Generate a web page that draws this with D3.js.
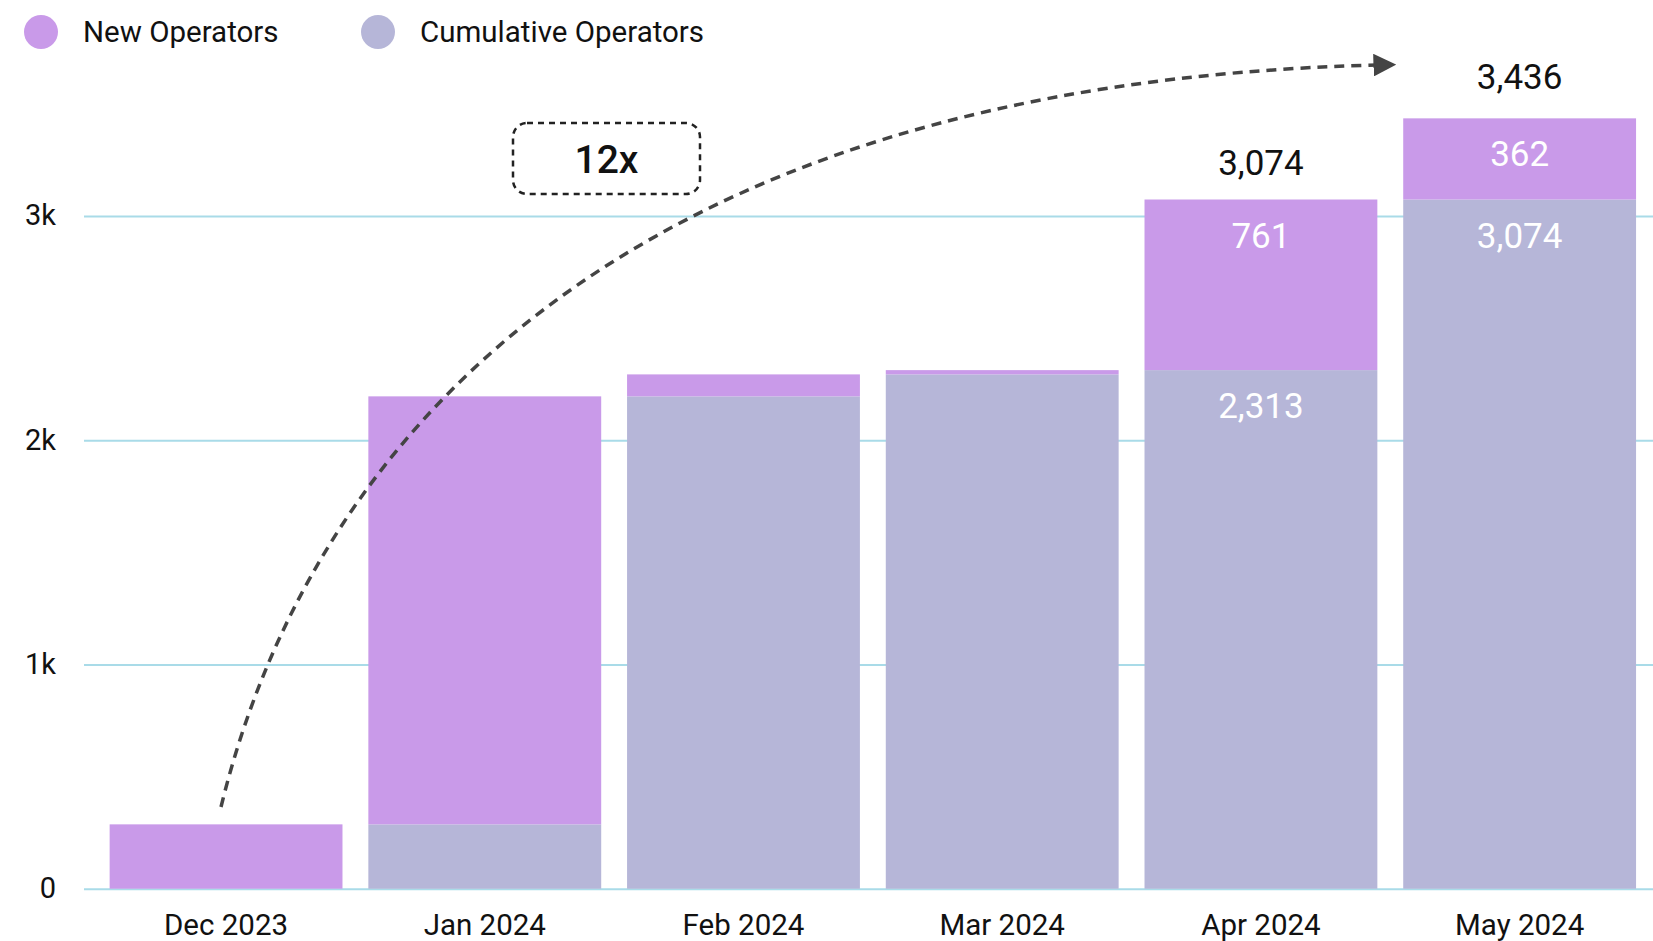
<!DOCTYPE html>
<html>
<head>
<meta charset="utf-8">
<script src="https://cdnjs.cloudflare.com/ajax/libs/d3/7.8.5/d3.min.js"></script>
<style>
  body { margin: 0; background: #fff; }
  text { font-family: Roboto, "Noto Sans", sans-serif; }
</style>
</head>
<body>
<div id="chart"></div>
<script>
// data
var months = ["Dec 2023", "Jan 2024", "Feb 2024", "Mar 2024", "Apr 2024", "May 2024"];
var cumulativeOps = [0, 287, 2196, 2294, 2313, 3074];
var newOps = [287, 1909, 98, 19, 761, 362];
var labelled = ["Apr 2024", "May 2024"];   // bars that carry value labels
var yTicks = [0, 1000, 2000, 3000];
var yTickLabels = ["0", "1k", "2k", "3k"];
var seriesNames = ["New Operators", "Cumulative Operators"];
var growthLabel = "12x";

var W = 1653, H = 941;
var colNew = "#c99ae9", colCum = "#b6b6d8", gridCol = "#a9dbe8";

var svg = d3.select("#chart").append("svg")
  .attr("width", W).attr("height", H);

// scales
var x = d3.scaleBand().domain(months)
  .range([96.7, 1649]).paddingInner(0.1).paddingOuter(0.05);
var y = d3.scaleLinear().domain([0, 3000]).range([888.7, 216.1]);

// y axis with grid lines
var yAxis = svg.append("g")
  .attr("transform", "translate(84,0)")
  .call(d3.axisLeft(y).tickValues(yTicks)
    .tickFormat(function(d, i) { return yTickLabels[i]; })
    .tickSizeInner(-(W - 84)).tickSizeOuter(0).tickPadding(28));
yAxis.select(".domain").remove();
yAxis.selectAll(".tick line").attr("stroke", gridCol).attr("stroke-width", 2);
yAxis.selectAll(".tick text").attr("font-size", 29).attr("fill", "#111")
  .attr("dy", "0.3em");

// x axis labels
var xAxis = svg.append("g")
  .attr("transform", "translate(0," + y(0) + ")")
  .call(d3.axisBottom(x).tickSize(0).tickPadding(25));
xAxis.select(".domain").remove();
xAxis.selectAll(".tick text").attr("font-size", 29.5).attr("fill", "#111");

var rows = months.map(function(m, i) {
  return { month: m, cum: cumulativeOps[i], nw: newOps[i], total: cumulativeOps[i] + newOps[i] };
});

// cumulative part
svg.selectAll("rect.cum").data(rows).enter().append("rect")
  .attr("class", "cum")
  .attr("x", function(d) { return x(d.month); })
  .attr("width", x.bandwidth())
  .attr("y", function(d) { return y(d.cum); })
  .attr("height", function(d) { return y(0) - y(d.cum); })
  .attr("fill", colCum);

// new part stacked on top
svg.selectAll("rect.new").data(rows).enter().append("rect")
  .attr("class", "new")
  .attr("x", function(d) { return x(d.month); })
  .attr("width", x.bandwidth())
  .attr("y", function(d) { return y(d.total); })
  .attr("height", function(d) { return y(d.cum) - y(d.total); })
  .attr("fill", colNew);

var fmt = d3.format(",");
var lab = rows.filter(function(d) { return labelled.indexOf(d.month) >= 0; });
var cx = function(d) { return x(d.month) + x.bandwidth() / 2; };

// labels inside segments
var inner = svg.append("g").attr("font-size", 35).attr("fill", "#fff").attr("text-anchor", "middle");
inner.selectAll("text.n").data(lab).enter().append("text")
  .attr("x", cx).attr("y", function(d) { return y(d.total) + 48; })
  .text(function(d) { return fmt(d.nw); });
inner.selectAll("text.c").data(lab).enter().append("text")
  .attr("x", cx).attr("y", function(d) { return y(d.cum) + 48; })
  .text(function(d) { return fmt(d.cum); });

// totals above
svg.append("g").attr("font-size", 35).attr("fill", "#111").attr("text-anchor", "middle")
  .selectAll("text").data(lab).enter().append("text")
  .attr("x", cx).attr("y", function(d, i) { return y(d.total) - [25, 29][i]; })
  .text(function(d) { return fmt(d.total); });

// dashed growth arrow
svg.append("defs").append("marker")
  .attr("id", "arrow").attr("viewBox", "0 0 10 10")
  .attr("refX", 2).attr("refY", 5)
  .attr("markerWidth", 6.5).attr("markerHeight", 6.5)
  .attr("markerUnits", "strokeWidth")
  .attr("orient", "auto")
  .append("path").attr("d", "M0,0L10,5L0,10Z").attr("fill", "#444");

var p = d3.path();
p.moveTo(221, 807);
p.bezierCurveTo(308, 450, 610, 84, 1378, 65);
svg.append("path")
  .attr("d", p.toString())
  .attr("fill", "none").attr("stroke", "#444")
  .attr("stroke-width", 3.5).attr("stroke-dasharray", "10,7")
  .attr("marker-end", "url(#arrow)");

// 12x box
var box = svg.append("g").attr("transform", "translate(513,123)");
box.append("rect").attr("width", 187).attr("height", 71).attr("rx", 14)
  .attr("fill", "#fff").attr("stroke", "#222").attr("stroke-width", 2.5)
  .attr("stroke-dasharray", "6,5");
box.append("text").attr("x", 93.5).attr("y", 50).attr("text-anchor", "middle")
  .attr("font-size", 39).attr("font-weight", 500).attr("fill", "#111")
  .text(growthLabel);

// legend
var legend = svg.append("g").selectAll("g").data(seriesNames).enter().append("g")
  .attr("transform", function(d, i) { return "translate(" + [41, 378][i] + ",32)"; });
legend.append("circle").attr("r", 17).attr("fill", function(d, i) { return [colNew, colCum][i]; });
legend.append("text").attr("x", 42).attr("dy", "0.35em")
  .attr("font-size", 29.5).attr("fill", "#111")
  .text(function(d) { return d; });
</script>
</body>
</html>
